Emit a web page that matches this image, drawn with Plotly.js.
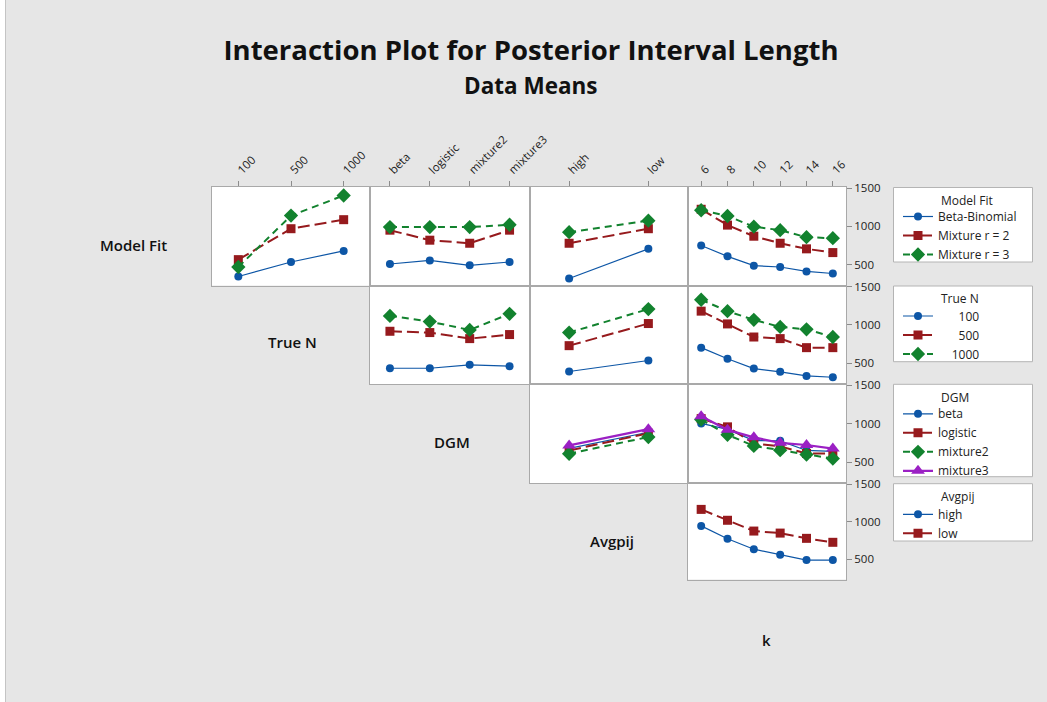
<!DOCTYPE html>
<html><head><meta charset="utf-8">
<script src="https://cdn.plot.ly/plotly-3.0.1.min.js"></script>
<style>html,body{margin:0;padding:0;background:#e6e6e6;} #plot{width:1047px;height:702px;}</style>
</head><body><div id="plot"></div>
<script>
const W = 1047, H = 702;

// ---- categories / tick labels ----
const trueNLevels = ['100', '500', '1000'];
const dgmLevels = ['beta', 'logistic', 'mixture2', 'mixture3'];
const avgpijLevels = ['high', 'low'];
const kLevels = ['6', '8', '10', '12', '14', '16'];
const yTicks = [500, 1000, 1500];

// ---- legend entry names ----
const modelFitNames = ['Beta-Binomial', 'Mixture r = 2', 'Mixture r = 3'];
const trueNNames = ['\u2007\u2007\u2007100', '\u2007\u2007\u2007500', '\u2007\u20071000'];
const dgmNames = ['beta', 'logistic', 'mixture2', 'mixture3'];
const avgpijNames = ['high', 'low'];

// ---- data means (Posterior Interval Length) ----
// Model Fit rows: [Beta-Binomial, Mixture r=2, Mixture r=3]
const modelFitByTrueN = [[346, 535, 680], [566, 970, 1088], [470, 1141, 1404]];
const modelFitByDgm = [[509, 556, 491, 535], [951, 820, 780, 951], [991, 991, 991, 1022]];
const modelFitByAvgpij = [[320, 707], [780, 970], [925, 1075]];
const modelFitByK = [[750, 609, 487, 470, 412, 385], [1224, 1017, 872, 780, 707, 658], [1211, 1136, 996, 951, 859, 846]];
// True N rows: [100, 500, 1000]
const trueNByDgm = [[434, 434, 479, 461], [917, 900, 821, 874], [1118, 1044, 934, 1145]];
const trueNByAvgpij = [[391, 535], [729, 1018], [900, 1207]];
const trueNByK = [[703, 558, 430, 387, 334, 316], [1180, 1013, 842, 821, 703, 703], [1329, 1180, 1066, 974, 943, 842]];
// DGM rows: [beta, logistic, mixture2, mixture3]
const dgmByAvgpij = [[678, 888], [651, 875], [608, 826], [717, 928]];
const dgmByK = [[1002, 925, 780, 776, 651, 638], [1065, 958, 743, 704, 612, 612], [1052, 855, 710, 655, 597, 545], [1095, 919, 822, 750, 722, 676]];
// Avgpij rows: [high, low]
const avgpijByK = [[943, 772, 632, 558, 487, 487], [1163, 1018, 874, 847, 777, 724]];

// ---- styles ----
const seriesColors = ['#0d56a6', '#961a1d', '#12822e', '#9b20c4'];
const seriesSymbols = ['circle', 'square', 'diamond', 'triangle-up'];
const seriesDash = ['solid', '12px,5px', '7px,5px', 'solid'];
const seriesWidth = [1.2, 2, 2, 2.2];
const markerSizes = [8, 9, 11, 12];
const FONT = 'Open Sans, Noto Sans, sans-serif';
const TXT = '#222222';
const BORDER = '#a9a9a9';

const colPx = [[212, 370], [370, 529.5], [529.5, 688], [688, 846]];
const rowPx = [[187, 285.5], [285.5, 384], [384, 483], [483, 579.5]];
const yRange = [228, 1515];

const px = v => v / W;
const py = v => 1 - v / H;

const panels = [
  {r: 0, c: 0, cats: trueNLevels, data: modelFitByTrueN, names: modelFitNames, legend: 'legend', show: true},
  {r: 0, c: 1, cats: dgmLevels, data: modelFitByDgm, names: modelFitNames, legend: 'legend', show: false},
  {r: 0, c: 2, cats: avgpijLevels, data: modelFitByAvgpij, names: modelFitNames, legend: 'legend', show: false},
  {r: 0, c: 3, cats: kLevels, data: modelFitByK, names: modelFitNames, legend: 'legend', show: false},
  {r: 1, c: 1, cats: dgmLevels, data: trueNByDgm, names: trueNNames, legend: 'legend2', show: true},
  {r: 1, c: 2, cats: avgpijLevels, data: trueNByAvgpij, names: trueNNames, legend: 'legend2', show: false},
  {r: 1, c: 3, cats: kLevels, data: trueNByK, names: trueNNames, legend: 'legend2', show: false},
  {r: 2, c: 2, cats: avgpijLevels, data: dgmByAvgpij, names: dgmNames, legend: 'legend3', show: true},
  {r: 2, c: 3, cats: kLevels, data: dgmByK, names: dgmNames, legend: 'legend3', show: false},
  {r: 3, c: 3, cats: kLevels, data: avgpijByK, names: avgpijNames, legend: 'legend4', show: true}
];

const traces = [];
const layout = {
  width: W, height: H,
  margin: {l: 0, r: 0, t: 0, b: 0, pad: 0},
  paper_bgcolor: '#e6e6e6',
  plot_bgcolor: '#ffffff',
  font: {family: FONT, color: TXT, size: 12},
  hovermode: false,
  title: {
    text: 'Interaction Plot for Posterior Interval Length',
    x: px(531), xref: 'paper', xanchor: 'center',
    y: py(50), yref: 'paper', yanchor: 'middle',
    font: {family: FONT, size: 27.5, weight: 700, color: '#111'}
  },
  shapes: [], annotations: []
};

panels.forEach((p, i) => {
  const n = i + 1;
  const xa = n === 1 ? 'x' : 'x' + n;
  const ya = n === 1 ? 'y' : 'y' + n;
  p.data.forEach((vals, s) => {
    traces.push({
      type: 'scatter', mode: 'lines+markers',
      x: p.cats, y: vals, xaxis: xa, yaxis: ya,
      name: p.names[s], legend: p.legend, showlegend: p.show,
      legendgroup: p.legend + '_' + s,
      line: {color: seriesColors[s], width: seriesWidth[s], dash: seriesDash[s]},
      marker: {color: seriesColors[s], symbol: seriesSymbols[s], size: markerSizes[s]},
      cliponaxis: false
    });
  });
  const top = p.r === 0;
  const right = p.c === 3;
  layout[n === 1 ? 'xaxis' : 'xaxis' + n] = {
    type: 'category', categoryorder: 'array', categoryarray: p.cats,
    range: [-0.5, p.cats.length - 0.5],
    domain: [px(colPx[p.c][0]), px(colPx[p.c][1])],
    anchor: ya, side: 'top',
    showline: true, mirror: true, linecolor: BORDER, linewidth: 1,
    showgrid: false, zeroline: false, fixedrange: true,
    ticks: top ? 'outside' : '', ticklen: 5, tickcolor: '#8c8c8c', tickwidth: 1,
    showticklabels: top, tickangle: -45,
    tickfont: {family: FONT, size: 11.5, color: TXT}
  };
  layout[n === 1 ? 'yaxis' : 'yaxis' + n] = {
    range: yRange,
    domain: [py(rowPx[p.r][1]), py(rowPx[p.r][0])],
    anchor: xa, side: 'right',
    showline: true, mirror: true, linecolor: BORDER, linewidth: 1,
    showgrid: false, zeroline: false, fixedrange: true,
    tickmode: 'array', tickvals: yTicks, ticktext: yTicks.map(String),
    ticks: right ? 'outside' : '', ticklen: 5, tickcolor: '#8c8c8c', tickwidth: 1,
    showticklabels: right,
    tickfont: {family: FONT, size: 11.5, color: TXT}
  };
});

// outer frame pieces
layout.shapes.push({type: 'rect', xref: 'paper', yref: 'paper', x0: 0, x1: px(5.5), y0: 0, y1: 1,
  fillcolor: '#ffffff', line: {width: 0}, layer: 'below'});
layout.shapes.push({type: 'line', xref: 'paper', yref: 'paper', x0: px(5.5), x1: px(5.5), y0: 0, y1: 1,
  line: {color: '#c4c4c4', width: 1}, layer: 'below'});

// legend boxes and titles
const legendBoxes = [
  {y0: 187.5, y1: 262, title: 'Model Fit', ty: 200.7, ly: 202, id: 'legend'},
  {y0: 286, y1: 361.7, title: 'True N', ty: 298, ly: 301.5, id: 'legend2'},
  {y0: 384.3, y1: 476.7, title: 'DGM', ty: 397.3, ly: 399.3, id: 'legend3'},
  {y0: 483.7, y1: 541, title: 'Avgpij', ty: 496.7, ly: 499.8, id: 'legend4'}
];
legendBoxes.forEach(b => {
  layout.shapes.push({type: 'rect', xref: 'paper', yref: 'paper',
    x0: px(893.5), x1: px(1032.5), y0: py(b.y1), y1: py(b.y0),
    fillcolor: '#ffffff', line: {color: '#b4b4b4', width: 1}, layer: 'below'});
  layout.annotations.push({text: b.title, xref: 'paper', yref: 'paper',
    x: px(939), y: py(b.ty), xanchor: 'left', yanchor: 'middle', showarrow: false,
    font: {family: FONT, size: 12, color: TXT}});
  layout[b.id] = {
    x: px(898), y: py(b.ly), xref: 'paper', yref: 'paper', xanchor: 'left', yanchor: 'top',
    bgcolor: 'rgba(0,0,0,0)', borderwidth: 0, tracegroupgap: 0,
    font: {family: FONT, size: 12, color: TXT}, itemclick: false, itemdoubleclick: false
  };
});

// subtitle and factor labels
layout.annotations.push({text: 'Data Means', xref: 'paper', yref: 'paper', x: px(531), y: py(86),
  xanchor: 'center', yanchor: 'middle', showarrow: false,
  font: {family: FONT, size: 22.5, weight: 700, color: '#111'}});
const factorLabels = [
  {t: 'Model Fit', x: 133, y: 245},
  {t: 'True N', x: 292, y: 342},
  {t: 'DGM', x: 452, y: 442},
  {t: 'Avgpij', x: 612, y: 541},
  {t: 'k', x: 766, y: 640}
];
factorLabels.forEach(f => layout.annotations.push({text: f.t, xref: 'paper', yref: 'paper',
  x: px(f.x), y: py(f.y), xanchor: 'center', yanchor: 'middle', showarrow: false,
  font: {family: FONT, size: 15, weight: 600, color: '#111'}}));

Plotly.newPlot('plot', traces, layout, {staticPlot: true, displayModeBar: false});
</script></body></html>
